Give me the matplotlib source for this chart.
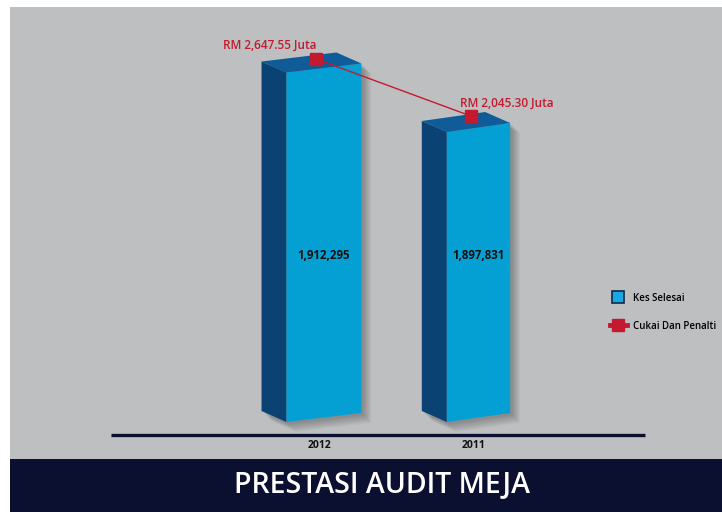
import matplotlib
matplotlib.use('Agg')
import matplotlib.pyplot as plt
import matplotlib.transforms as mtransforms
import numpy as np
from matplotlib.patches import Polygon, Rectangle
from matplotlib.lines import Line2D

# ---------------- data ----------------
years = ['2012', '2011']
kes_selesai = [1912295, 1897831]
cukai = [2647.55, 2045.30]
kes_labels = ['1,912,295', '1,897,831']
cukai_labels = ['RM 2,647.55 Juta', 'RM 2,045.30 Juta']
legend_labels = ['Kes Selesai', 'Cukai Dan Penalti']
title = 'PRESTASI AUDIT MEJA'

# ---------------- style ----------------
plt.rcParams['font.family'] = ['Open Sans', 'DejaVu Sans']
PANEL = '#bebfc1'
NAVY = '#0b0f30'
FRONT = '#04a0d3'
SIDE = '#0a4273'
TOP = '#0f5c98'
RED = '#c41a2f'

W, H = 722, 512
fig = plt.figure(figsize=(W / 100, H / 100), dpi=100)
fig.patch.set_facecolor('white')

ax = fig.add_axes([10 / W, (H - 459) / H, 712 / W, 452 / H])
ax.set_facecolor(PANEL)
for s in ax.spines.values():
    s.set_visible(False)
ax.set_xticks([])
ax.set_yticks([])

x = np.arange(len(years))
ax.set_xlim(-2.032, 2.576)
BASE = 1827332
ax.set_ylim(1817243, 1927125)
widths = [0.485, 0.41]

SL = 9.0    # perspective slant of the front face (px)
DX, DY = -25.0, 11.0  # depth offset of side/top faces (px)

to_px = ax.transData.transform
inv = ax.transData.inverted().transform

for i, v in enumerate(kes_selesai):
    w = widths[i]
    xl, yv = to_px((x[i] - w / 2, v))
    xr, _ = to_px((x[i] + w / 2, v))
    _, yb = to_px((x[i], BASE))
    front = [(xl, yb - SL / 2), (xr, yb + SL / 2), (xr, yv + SL / 2), (xl, yv - SL / 2)]
    side = [(xl + DX, yb - SL / 2 + DY), (xl, yb - SL / 2), (xl, yv - SL / 2), (xl + DX, yv - SL / 2 + DY)]
    top = [(xl, yv - SL / 2), (xr, yv + SL / 2), (xr + DX, yv + SL / 2 + DY), (xl + DX, yv - SL / 2 + DY)]
    hull = [side[0], front[0], front[1], front[2], top[2], side[3]]
    # soft shadow
    for k in range(1, 9):
        off = np.array(hull) + np.array([1.0 + k * 1.1, -1.0 - k * 1.1])
        ax.add_patch(Polygon(inv(off), closed=True, facecolor='black', alpha=0.035,
                             edgecolor='none', zorder=1))
    ax.add_patch(Polygon(inv(np.array(side)), closed=True, facecolor=SIDE, edgecolor='none', zorder=2))
    ax.add_patch(Polygon(inv(np.array(front)), closed=True, facecolor=FRONT, edgecolor='none', zorder=2))
    ax.add_patch(Polygon(inv(np.array(top)), closed=True, facecolor=TOP, edgecolor='none', zorder=2))

blend = mtransforms.blended_transform_factory(ax.transData, ax.transAxes)
for i, lab in enumerate(kes_labels):
    ax.text(x[i], 0.451, lab, transform=blend, ha='center', va='center',
            fontsize=8.3, fontweight='bold', color='#111111', zorder=5)
for i, lab in enumerate(years):
    ax.text(x[i] - 0.03, 0.029, lab, transform=blend, ha='center', va='center',
            fontsize=7.5, fontweight='bold', color='#111111', zorder=5)

# baseline rule
ax.plot([0.142, 0.892], [0.054, 0.054], transform=ax.transAxes, color=NAVY, lw=2.4,
        solid_capstyle='butt', zorder=3)

# line series on secondary axis
ax2 = ax.twinx()
ax2.set_ylim(-1579, 3197)
ax2.set_facecolor('none')
for s in ax2.spines.values():
    s.set_visible(False)
ax2.set_yticks([])
shift = -0.05
ax2.plot(x + shift, cukai, color=RED, lw=1.0, marker='s', ms=8, mec=RED, mfc=RED, zorder=6)
ax2.annotate(cukai_labels[0], (x[0] + shift, cukai[0]), xytext=(0, 10), textcoords='offset points',
             ha='right', va='center', fontsize=8.5, fontweight='semibold', color=RED)
ax2.annotate(cukai_labels[1], (x[1] + shift, cukai[1]), xytext=(-8, 9.5), textcoords='offset points',
             ha='left', va='center', fontsize=8.5, fontweight='semibold', color=RED)

# legend
handles = [Line2D([], [], ls='none', marker='s', ms=9, mfc='#1aa8e0', mec='#0d2a4a', mew=1.2),
           Line2D([], [], color=RED, lw=3.5, marker='s', ms=8, mfc=RED, mec=RED)]
fig.legend(handles, legend_labels, loc='upper left', bbox_to_anchor=(601 / W, 1 - 284 / H),
           frameon=False, handlelength=1.75, handleheight=1.1, handletextpad=0.6,
           labelspacing=1.8, prop={'weight': 'semibold', 'size': 7.0})

# bottom banner
fig.add_artist(Rectangle((10 / W, 0), 712 / W, 53 / H, transform=fig.transFigure,
                         facecolor=NAVY, edgecolor='none'))
fig.text(382 / W, (H - 485) / H, title, color='white', fontsize=20.5, ha='center', va='center',
         fontweight='semibold')

fig.savefig('out.png', dpi=100, facecolor='white')
